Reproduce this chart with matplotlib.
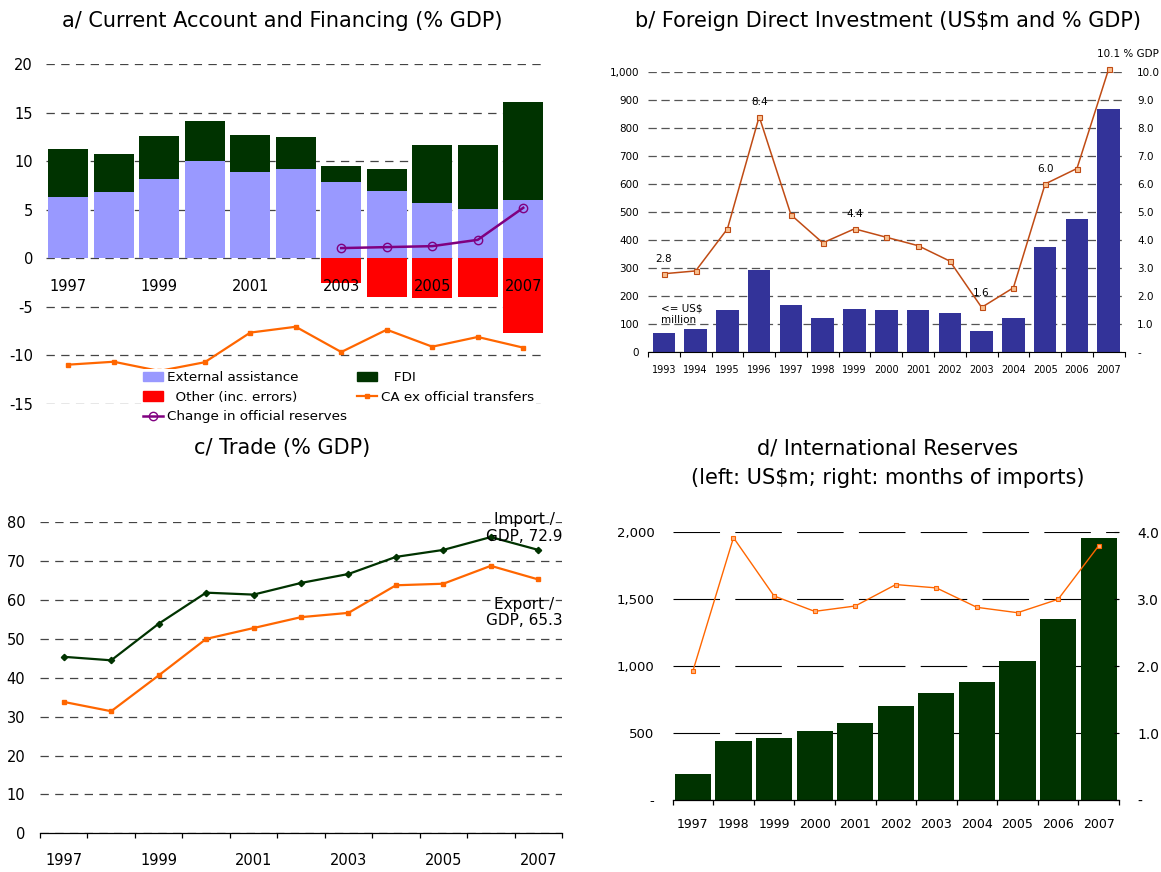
import numpy as np
import matplotlib
matplotlib.use("Agg")
import matplotlib.pyplot as plt
from matplotlib.lines import Line2D
from matplotlib.patches import Patch
from matplotlib.ticker import FixedLocator, FuncFormatter

plt.rcParams['font.family'] = ['DejaVu Sans']
plt.rcParams['axes.unicode_minus'] = False
plt.rcParams['lines.scale_dashes'] = False

# ---------------- data ----------------
# a/ Current Account and Financing (% GDP)
years_a = ['1997', '1998', '1999', '2000', '2001', '2002', '2003', '2004', '2005', '2006', '2007']
ext_assist = [6.3, 6.8, 8.15, 10.0, 8.85, 9.2, 7.85, 6.9, 5.7, 5.05, 6.0]
fdi_pct = [4.9, 3.9, 4.4, 4.1, 3.8, 3.3, 1.6, 2.3, 6.0, 6.6, 10.1]
other_err = [0, 0, 0, 0, 0, 0, -2.5, -3.95, -4.05, -3.95, -7.65]
ca_ex_transfers = [-10.95, -10.65, -11.6, -10.7, -7.65, -7.05, -9.65, -7.35, -9.1, -8.1, -9.2]
chg_reserves = [np.nan, np.nan, np.nan, np.nan, np.nan, np.nan, 1.05, 1.15, 1.25, 1.9, 5.2]

# b/ Foreign Direct Investment
years_b = ['1993', '1994', '1995', '1996', '1997', '1998', '1999', '2000', '2001', '2002',
           '2003', '2004', '2005', '2006', '2007']
fdi_usdm = [70, 84, 151, 295, 170, 124, 154, 151, 151, 140, 76, 124, 375, 475, 868]
fdi_gdp = [2.8, 2.9, 4.4, 8.4, 4.9, 3.9, 4.4, 4.1, 3.8, 3.25, 1.6, 2.3, 6.0, 6.55, 10.1]
fdi_labelled = ['1993', '1996', '1999', '2003', '2005', '2007']

# c/ Trade (% GDP)
years_c = years_a
imports_gdp = [45.4, 44.5, 53.9, 61.9, 61.4, 64.4, 66.7, 71.1, 72.9, 76.2, 72.9]
exports_gdp = [33.8, 31.4, 40.6, 50.0, 52.8, 55.6, 56.7, 63.8, 64.2, 68.8, 65.3]

# d/ International Reserves
years_d = years_a
reserves_usdm = [197, 443, 465, 517, 577, 704, 801, 883, 1040, 1353, 1955]
reserves_months = [1.93, 3.92, 3.05, 2.82, 2.90, 3.22, 3.17, 2.88, 2.80, 3.00, 3.80]

# ---------------- colours ----------------
C_LAV = '#9999FF'
C_DKG = '#003300'
C_RED = '#FF0000'
C_ORG = '#FF6600'
C_PUR = '#800080'
C_NAVY = '#333399'
C_BRN = '#C04B14'

W, H = 1161, 872
fig = plt.figure(figsize=(W / 100, H / 100), dpi=100)


def box(x0, y_top, x1, y_bot):
    return [x0 / W, 1 - y_bot / H, (x1 - x0) / W, (y_bot - y_top) / H]


def fmt_thousands(dash_zero):
    def f(v, pos):
        if abs(v) < 1e-9:
            return '-' if dash_zero else '0'
        return f"{v:,.0f}"
    return FuncFormatter(f)


def fmt_dec(v, pos):
    if abs(v) < 1e-9:
        return '-'
    return f"{v:.1f}"


# ================= panel a =================
ax = fig.add_axes(box(45.5, 64, 546, 404))
xa = np.arange(len(years_a))
ax.bar(xa, ext_assist, width=0.886, color=C_LAV, zorder=1.5)
ax.bar(xa, fdi_pct, width=0.886, bottom=ext_assist, color=C_DKG, zorder=1.5)
ax.bar(xa, other_err, width=0.886, color=C_RED, zorder=1.5)
ax.plot(xa, ca_ex_transfers, color=C_ORG, lw=1.6, marker='s', ms=3.5, zorder=4)
ax.plot(xa, chg_reserves, color=C_PUR, lw=1.8, marker='o', ms=6, mfc='none',
        mec=C_PUR, mew=1.0, zorder=4)
ax.set_xlim(-0.5, len(years_a) - 0.5)
ax.set_ylim(-15, 20)
ax.set_yticks(np.arange(-15, 21, 5))
for yv in ax.get_yticks():
    ax.axhline(yv, color='#444444', lw=0.9, dashes=(6.0, 4.6), zorder=0.5)
for s in ax.spines.values():
    s.set_visible(False)
ax.spines['bottom'].set_position(('data', 0))
ax.set_xticks(xa[::2])
ax.set_xticklabels(years_a[::2])
ax.tick_params(axis='x', length=0, pad=15, labelsize=10.5)
ax.tick_params(axis='y', length=0, pad=9, labelsize=10.5)

handles = [Patch(color=C_LAV), Patch(color=C_RED),
           Line2D([], [], color=C_PUR, lw=1.8, marker='o', ms=6, mfc='none', mec=C_PUR),
           Patch(color=C_DKG),
           Line2D([], [], color=C_ORG, lw=1.6, marker='s', ms=3.5)]
labels = ['External assistance', '  Other (inc. errors)', 'Change in official reserves',
          '   FDI', 'CA ex official transfers']
leg = ax.legend(handles, labels, ncol=2, loc='upper left',
                bbox_to_anchor=(141 / W, 1 - 369 / H), bbox_transform=fig.transFigure,
                frameon=True, facecolor='white', edgecolor='none', framealpha=1,
                fontsize=9.7, borderpad=0.15, handlelength=1.5, handletextpad=0.3,
                columnspacing=0.7, labelspacing=0.5, borderaxespad=0)
leg.set_zorder(6)

fig.text(282.6 / W, 1 - 21 / H, 'a/ Current Account and Financing (% GDP)',
         ha='center', va='center', fontsize=15)

# ================= panel b =================
axb = fig.add_axes(box(648, 71.7, 1124.6, 352.3))
xb = np.arange(len(years_b))
axb.bar(xb, fdi_usdm, width=0.71, color=C_NAVY, zorder=2)
axb.set_xlim(-0.5, len(years_b) - 0.5)
axb.set_ylim(0, 1000)
axb.set_yticks(np.arange(0, 1001, 100))
axb.yaxis.set_major_formatter(fmt_thousands(False))
axb.yaxis.grid(True, color='#555555', lw=0.9, dashes=(6.0, 3.3))
axb.set_axisbelow(True)
for k in ['left', 'right', 'top']:
    axb.spines[k].set_visible(False)
axb.spines['bottom'].set_linewidth(0.8)
axb.set_xticks(xb)
axb.set_xticklabels(years_b)
axb.xaxis.set_minor_locator(FixedLocator(np.arange(-0.5, len(years_b), 1.0)))
axb.tick_params(axis='x', which='major', length=0, pad=9, labelsize=7)
axb.tick_params(axis='x', which='minor', length=3.6, width=0.8, direction='out')
axb.tick_params(axis='y', length=0, pad=6.5, labelsize=7.5)

axb2 = axb.twinx()
axb2.plot(xb, fdi_gdp, color=C_BRN, lw=1.1, marker='s', ms=3.6, mfc='#F9C08F',
          mec=C_BRN, mew=0.8, clip_on=False, zorder=4)
axb2.set_ylim(0, 10)
axb2.set_yticks(np.arange(0, 11, 1))
axb2.yaxis.set_major_formatter(FuncFormatter(fmt_dec))
axb2.tick_params(axis='y', length=0, pad=9, labelsize=7.5)
for s in axb2.spines.values():
    s.set_visible(False)
for yr in fdi_labelled:
    i = years_b.index(yr)
    v = fdi_gdp[i]
    if i == len(years_b) - 1:
        axb2.annotate(f"{v:.1f} % GDP", (i, v), xytext=(14, 7), textcoords='offset points',
                      ha='center', va='bottom', fontsize=7.5, annotation_clip=False)
    else:
        axb2.annotate(f"{v:.1f}", (i, v), xytext=(0, 7), textcoords='offset points',
                      ha='center', va='bottom', fontsize=7.5)
axb.text(-0.1, 135, '<= US$\nmillion', ha='left', va='center', fontsize=7.5,
         linespacing=1.15, zorder=5)

fig.text(887.6 / W, 1 - 21 / H, 'b/ Foreign Direct Investment (US$m and % GDP)',
         ha='center', va='center', fontsize=15)

# ================= panel c =================
axc = fig.add_axes(box(40, 522.3, 562, 833.3))
xc = np.arange(len(years_c))
axc.plot(xc, imports_gdp, color=C_DKG, lw=1.6, marker='D', ms=3.2, zorder=3)
axc.plot(xc, exports_gdp, color=C_ORG, lw=1.6, marker='s', ms=3.5, zorder=3)
axc.set_xlim(-0.5, len(years_c) - 0.5)
axc.set_ylim(0, 80)
axc.set_yticks(np.arange(0, 81, 10))
axc.yaxis.grid(True, color='#444444', lw=0.9, dashes=(6.0, 4.6))
axc.set_axisbelow(True)
for k in ['left', 'right', 'top']:
    axc.spines[k].set_visible(False)
axc.spines['bottom'].set_linewidth(0.9)
axc.set_xticks(xc[::2])
axc.set_xticklabels(years_c[::2])
axc.xaxis.set_minor_locator(FixedLocator(np.arange(-0.5, len(years_c), 1.0)))
axc.tick_params(axis='x', which='major', length=0, pad=14, labelsize=10.5)
axc.tick_params(axis='x', which='minor', length=3.6, width=0.9, direction='out')
axc.tick_params(axis='y', length=0, pad=10.5, labelsize=10.5)
axc.text(9.71, 78.5, f"Import /\nGDP, {imports_gdp[-1]:.1f}", ha='center', va='center',
         fontsize=11, linespacing=1.15, clip_on=False)
axc.text(9.71, 56.8, f"Export /\nGDP, {exports_gdp[-1]:.1f}", ha='center', va='center',
         fontsize=11, linespacing=1.15, clip_on=False)

fig.text(282.5 / W, 1 - 448 / H, 'c/ Trade (% GDP)', ha='center', va='center', fontsize=15)

# ================= panel d =================
axd = fig.add_axes(box(672.6, 532.3, 1119, 800.3))
xd = np.arange(len(years_d))
axd.bar(xd, reserves_usdm, width=0.89, color=C_DKG, zorder=2)
axd.set_xlim(-0.5, len(years_d) - 0.5)
axd.set_ylim(0, 2000)
axd.set_yticks(np.arange(0, 2001, 500))
axd.yaxis.set_major_formatter(fmt_thousands(True))
axd.yaxis.grid(True, color='black', lw=0.8, dashes=(33.5, 11.0))
axd.set_axisbelow(True)
for k in ['left', 'right', 'top']:
    axd.spines[k].set_visible(False)
axd.spines['bottom'].set_linewidth(0.9)
axd.set_xticks(xd)
axd.set_xticklabels(years_d)
axd.xaxis.set_minor_locator(FixedLocator(np.arange(-0.5, len(years_d), 1.0)))
axd.tick_params(axis='x', which='major', length=0, pad=13, labelsize=9)
axd.tick_params(axis='x', which='minor', length=3.6, width=0.9, direction='out')
axd.tick_params(axis='y', length=0, pad=13, labelsize=9.5)

axd2 = axd.twinx()
axd2.plot(xd, reserves_months, color=C_ORG, lw=1.0, marker='s', ms=3.4, mfc='#FFB380',
          mec=C_ORG, mew=0.8, zorder=4)
axd2.set_ylim(0, 4)
axd2.set_yticks(np.arange(0, 4.01, 1))
axd2.yaxis.set_major_formatter(FuncFormatter(fmt_dec))
axd2.tick_params(axis='y', length=3.6, width=0.8, direction='in', pad=13, labelsize=10)
for s in axd2.spines.values():
    s.set_visible(False)

fig.text(887.6 / W, 1 - 448 / H, 'd/ International Reserves', ha='center', va='center',
         fontsize=15)
fig.text(887.6 / W, 1 - 478 / H, '(left: US$m; right: months of imports)', ha='center',
         va='center', fontsize=15)

fig.savefig('out.png', dpi=100)
